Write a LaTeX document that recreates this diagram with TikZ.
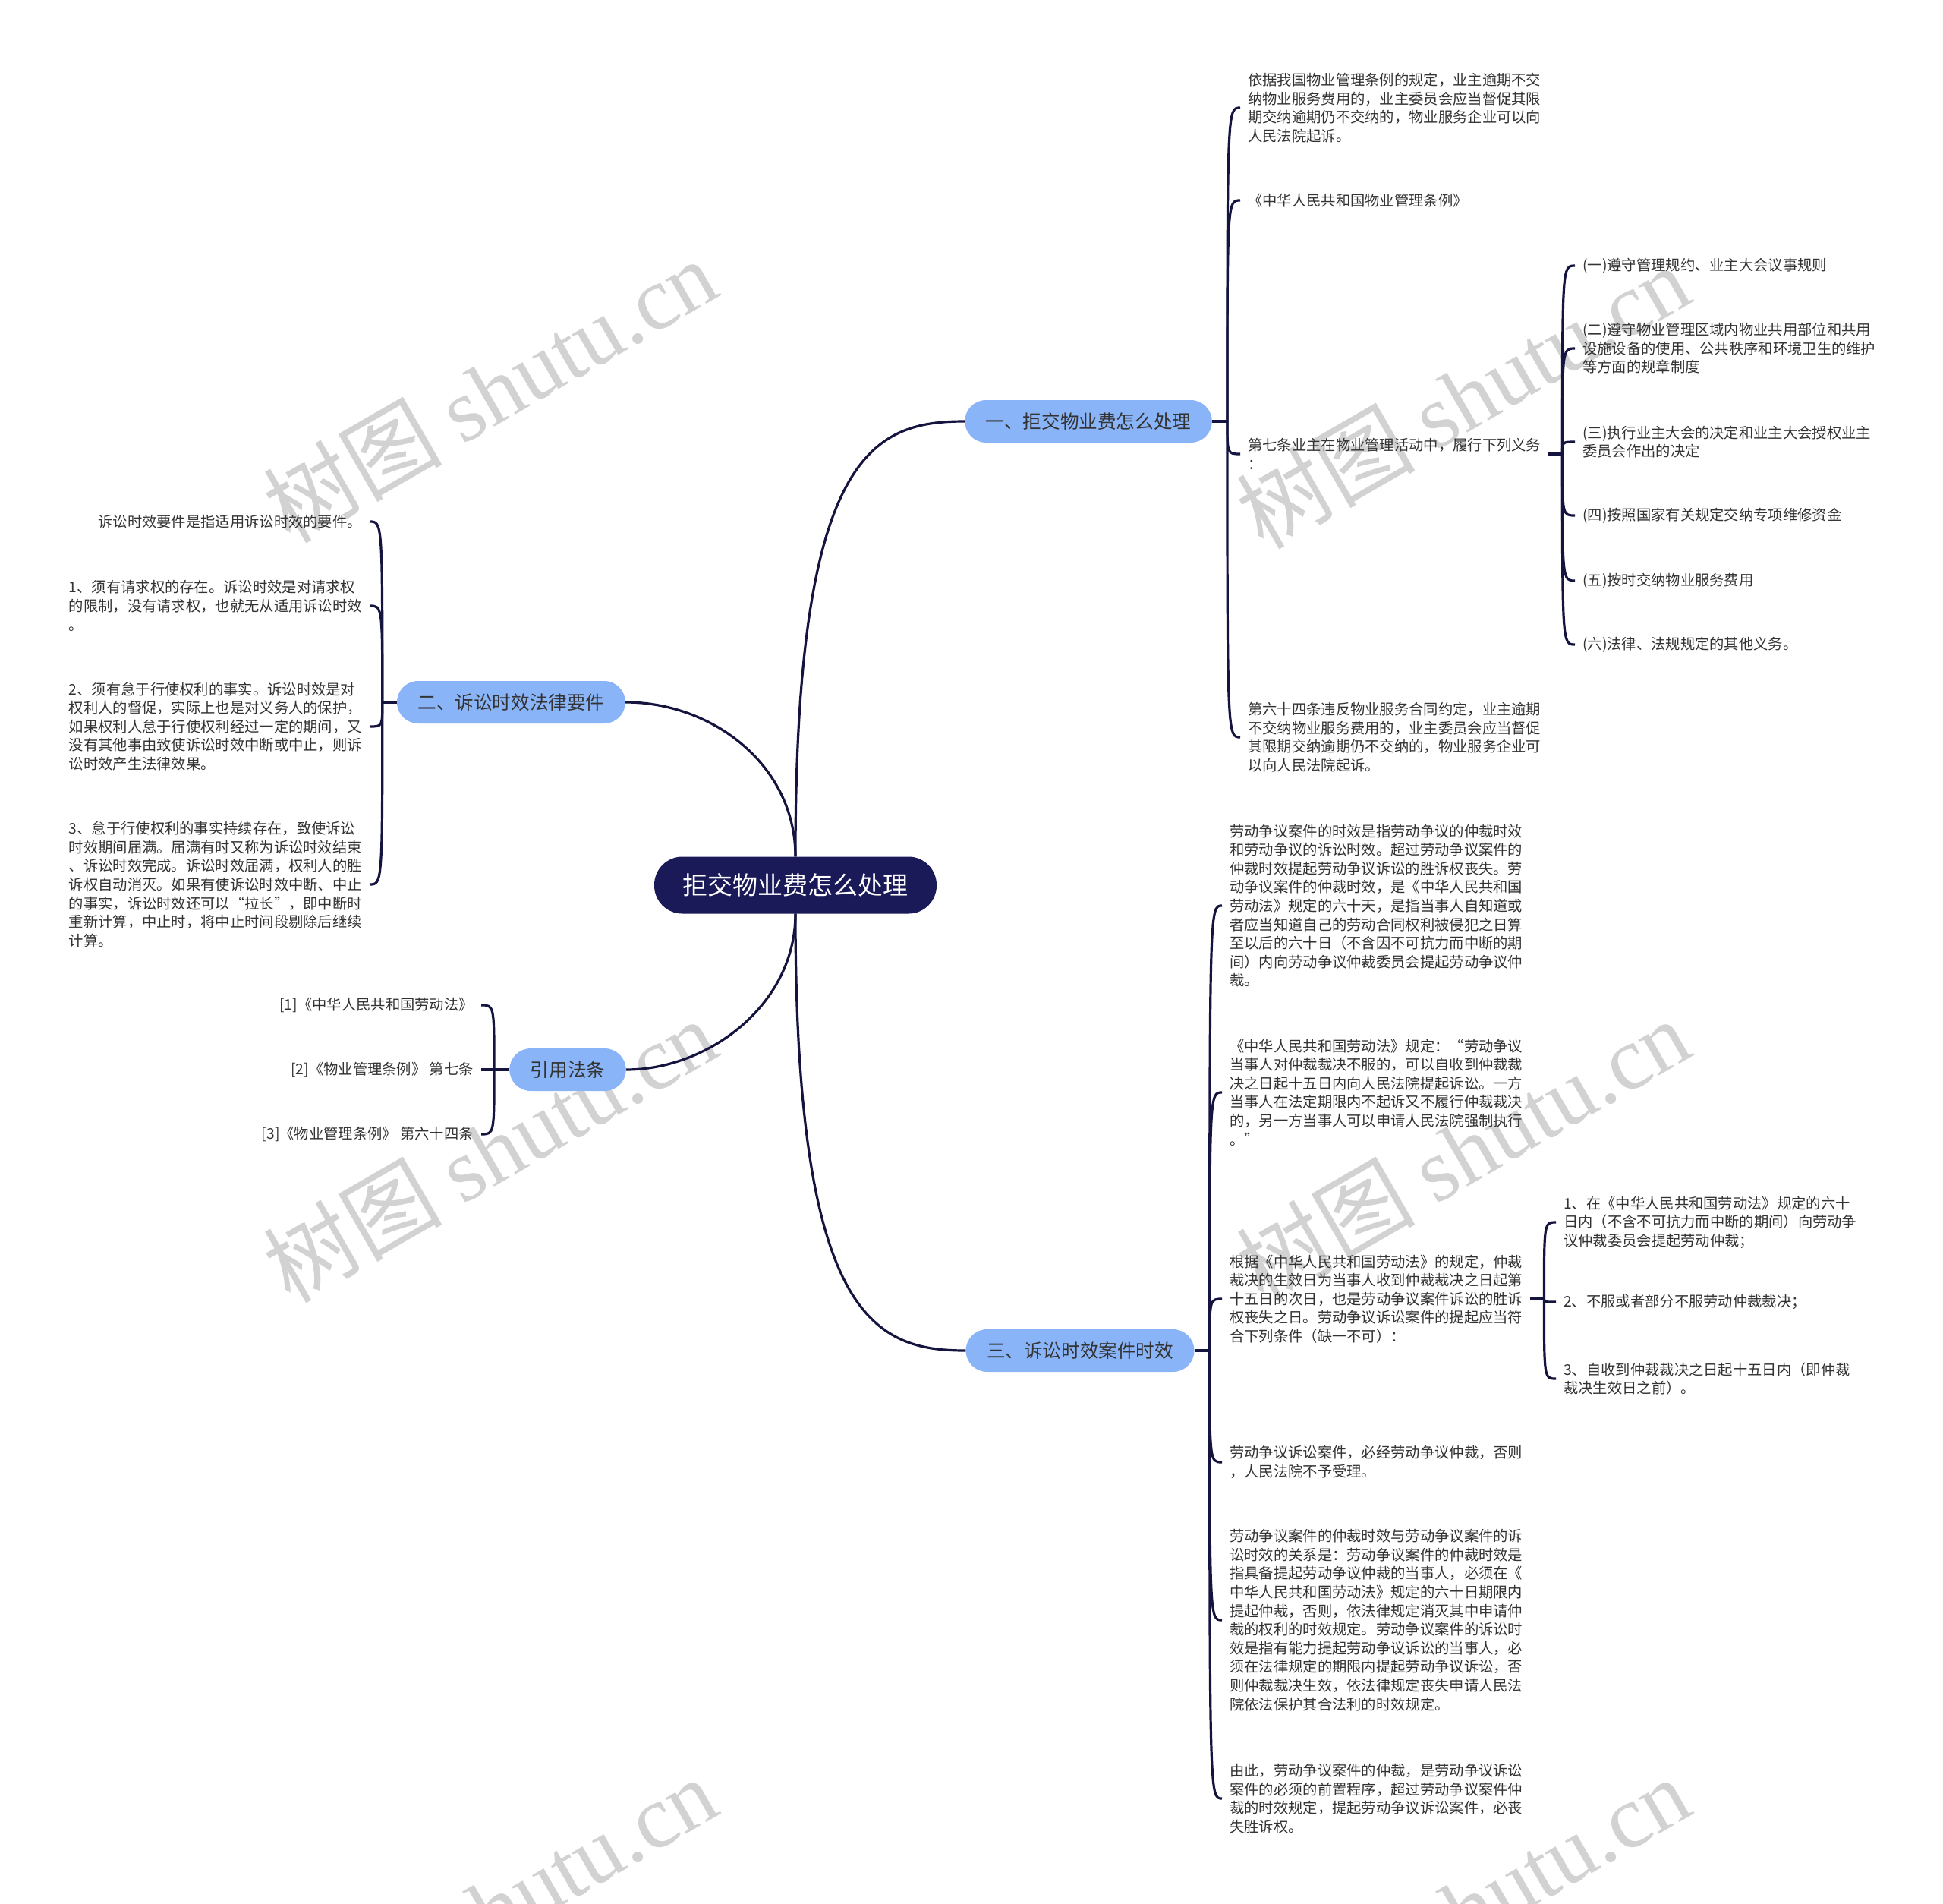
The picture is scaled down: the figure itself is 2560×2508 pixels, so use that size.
\documentclass[tikz,border=0pt]{standalone}
\usepackage{fontspec}
\setmainfont{Noto Sans CJK SC}
\newfontfamily\wmcjk{Noto Sans CJK SC}
\newfontfamily\wmlat{Liberation Serif}
\usetikzlibrary{calc}
\definecolor{navy}{HTML}{1B1A58}
\definecolor{branchblue}{HTML}{8AB4F8}
\definecolor{linecol}{HTML}{15143F}
\definecolor{txt}{HTML}{333333}
\definecolor{wm}{HTML}{D2D2D2}
\begin{document}
\begin{tikzpicture}[x=1pt,y=-1pt,
  conn/.style={draw=linecol, line width=3.2pt},
  rootnode/.style={fill=navy, text=white, rounded corners=37pt, minimum width=372pt, minimum height=75pt, inner sep=0pt, font=\fontsize{33}{40}\selectfont},
  branch/.style={fill=branchblue, text=txt, rounded corners=28pt, minimum height=56pt, inner xsep=27.5pt, inner ysep=0pt, font=\fontsize{24.6}{30}\selectfont},
  leaf/.style={text=txt, align=left, inner xsep=10pt, inner ysep=2pt, font=\fontsize{19.3}{24.6}\selectfont},
  wmark/.style={text=wm, rotate=30, inner sep=0pt, font=\fontsize{118}{130}\selectfont}
]
\useasboundingbox (0,0) rectangle (2560,2508);
\fill[white] (0,0) rectangle (2560,2508);
\clip (0,0) rectangle (2560,2508);

% watermarks
\node[wmark] (w1) at (645,514) {{\wmcjk 树图} {\wmlat shutu.cn}};
\node[wmark] (w2) at (1927,522) {{\wmcjk 树图} {\wmlat shutu.cn}};
\node[wmark] (w3) at (645,1515) {{\wmcjk 树图} {\wmlat shutu.cn}};
\node[wmark] (w4) at (1927,1515) {{\wmcjk 树图} {\wmlat shutu.cn}};
\node[wmark] (w5) at (645,2514) {{\wmcjk 树图} {\wmlat shutu.cn}};
\node[wmark] (w6) at (1927,2514) {{\wmcjk 树图} {\wmlat shutu.cn}};

% root and branches
\node[rootnode] (root) at (1048,1166) {拒交物业费怎么处理};
\node[branch] (b1) at (1434,555) {一、拒交物业费怎么处理};
\node[branch] (b2) at (673.5,925) {二、诉讼时效法律要件};
\node[branch] (b3) at (748,1409) {引用法条};
\node[branch] (b4) at (1423,1779) {三、诉讼时效案件时效};

% section 1 leaves
\node[leaf, anchor=west] (a1) at (1634,142) {依据我国物业管理条例的规定，业主逾期不交\\纳物业服务费用的，业主委员会应当督促其限\\期交纳逾期仍不交纳的，物业服务企业可以向\\人民法院起诉。};
\node[leaf, anchor=west] (a2) at (1634,264) {《中华人民共和国物业管理条例》};
\node[leaf, anchor=west] (a3) at (1634,598) {第七条业主在物业管理活动中，履行下列义务\\：};
\node[leaf, anchor=west] (a4) at (1634,971) {第六十四条违反物业服务合同约定，业主逾期\\不交纳物业服务费用的，业主委员会应当督促\\其限期交纳逾期仍不交纳的，物业服务企业可\\以向人民法院起诉。};

\node[leaf, anchor=west] (d1) at (2075,350) {(一)遵守管理规约、业主大会议事规则};
\node[leaf, anchor=west] (d2) at (2075,459) {(二)遵守物业管理区域内物业共用部位和共用\\设施设备的使用、公共秩序和环境卫生的维护\\等方面的规章制度};
\node[leaf, anchor=west] (d3) at (2075,582) {(三)执行业主大会的决定和业主大会授权业主\\委员会作出的决定};
\node[leaf, anchor=west] (d4) at (2075,679) {(四)按照国家有关规定交纳专项维修资金};
\node[leaf, anchor=west] (d5) at (2075,765) {(五)按时交纳物业服务费用};
\node[leaf, anchor=west] (d6) at (2075,849) {(六)法律、法规规定的其他义务。};

% section 2 leaves
\node[leaf, anchor=east] (l1) at (487,687) {诉讼时效要件是指适用诉讼时效的要件。};
\node[leaf, anchor=east] (l2) at (487,798) {1、须有请求权的存在。诉讼时效是对请求权\\的限制，没有请求权，也就无从适用诉讼时效\\。};
\node[leaf, anchor=east] (l3) at (487,957) {2、须有怠于行使权利的事实。诉讼时效是对\\权利人的督促，实际上也是对义务人的保护，\\如果权利人怠于行使权利经过一定的期间，又\\没有其他事由致使诉讼时效中断或中止，则诉\\讼时效产生法律效果。};
\node[leaf, anchor=east] (l4) at (487,1165) {3、怠于行使权利的事实持续存在，致使诉讼\\时效期间届满。届满有时又称为诉讼时效结束\\、诉讼时效完成。诉讼时效届满，权利人的胜\\诉权自动消灭。如果有使诉讼时效中断、中止\\的事实，诉讼时效还可以“拉长”，即中断时\\重新计算，中止时，将中止时间段剔除后继续\\计算。};

% cited laws
\node[leaf, anchor=east] (c1) at (634,1324) {[1]《中华人民共和国劳动法》};
\node[leaf, anchor=east] (c2) at (634,1409) {[2]《物业管理条例》 第七条};
\node[leaf, anchor=east] (c3) at (634,1494) {[3]《物业管理条例》 第六十四条};

% section 3 leaves
\node[leaf, anchor=west] (r1) at (1610,1193) {劳动争议案件的时效是指劳动争议的仲裁时效\\和劳动争议的诉讼时效。超过劳动争议案件的\\仲裁时效提起劳动争议诉讼的胜诉权丧失。劳\\动争议案件的仲裁时效，是《中华人民共和国\\劳动法》规定的六十天，是指当事人自知道或\\者应当知道自己的劳动合同权利被侵犯之日算\\至以后的六十日（不含因不可抗力而中断的期\\间）内向劳动争议仲裁委员会提起劳动争议仲\\裁。};
\node[leaf, anchor=west] (r2) at (1610,1439) {《中华人民共和国劳动法》规定：“劳动争议\\当事人对仲裁裁决不服的，可以自收到仲裁裁\\决之日起十五日内向人民法院提起诉讼。一方\\当事人在法定期限内不起诉又不履行仲裁裁决\\的，另一方当事人可以申请人民法院强制执行\\。”};
\node[leaf, anchor=west] (r3) at (1610,1711) {根据《中华人民共和国劳动法》的规定，仲裁\\裁决的生效日为当事人收到仲裁裁决之日起第\\十五日的次日，也是劳动争议案件诉讼的胜诉\\权丧失之日。劳动争议诉讼案件的提起应当符\\合下列条件（缺一不可）：};
\node[leaf, anchor=west] (r4) at (1610,1926) {劳动争议诉讼案件，必经劳动争议仲裁，否则\\，人民法院不予受理。};
\node[leaf, anchor=west] (r5) at (1610,2134) {劳动争议案件的仲裁时效与劳动争议案件的诉\\讼时效的关系是：劳动争议案件的仲裁时效是\\指具备提起劳动争议仲裁的当事人，必须在《\\中华人民共和国劳动法》规定的六十日期限内\\提起仲裁，否则，依法律规定消灭其中申请仲\\裁的权利的时效规定。劳动争议案件的诉讼时\\效是指有能力提起劳动争议诉讼的当事人，必\\须在法律规定的期限内提起劳动争议诉讼，否\\则仲裁裁决生效，依法律规定丧失申请人民法\\院依法保护其合法利的时效规定。};
\node[leaf, anchor=west] (r6) at (1610,2369) {由此，劳动争议案件的仲裁，是劳动争议诉讼\\案件的必须的前置程序，超过劳动争议案件仲\\裁的时效规定，提起劳动争议诉讼案件，必丧\\失胜诉权。};

\node[leaf, anchor=west] (e1) at (2050,1610) {1、在《中华人民共和国劳动法》规定的六十\\日内（不含不可抗力而中断的期间）向劳动争\\议仲裁委员会提起劳动仲裁；};
\node[leaf, anchor=west] (e2) at (2050,1715) {2、不服或者部分不服劳动仲裁裁决；};
\node[leaf, anchor=west] (e3) at (2050,1816) {3、自收到仲裁裁决之日起十五日内（即仲裁\\裁决生效日之前）。};

% root connectors
\draw[conn] (root.north) .. controls +(0,-530) and +(-122,0) .. (b1.west);
\draw[conn] (root.north) .. controls +(0,-120) and +(115,0) .. (b2.east);
\draw[conn] (root.south) .. controls +(0,120) and +(108,0) .. (b3.east);
\draw[conn] (root.south) .. controls +(0,530) and +(-122,0) .. (b4.west);

% brackets
\coordinate (k1) at ([xshift=20pt]b1.east);
\draw[conn] (b1.east) -- (k1);
\foreach \c in {a1,a2,a3,a4} \draw[conn] (k1) .. controls (k1 |- \c.west) .. (\c.west);

\coordinate (k3) at ([xshift=18pt]a3.east);
\draw[conn] (a3.east) -- (k3);
\foreach \c in {d1,d2,d3,d4,d5,d6} \draw[conn] (k3) .. controls (k3 |- \c.west) .. (\c.west);

\coordinate (k2) at ([xshift=-19pt]b2.west);
\draw[conn] (b2.west) -- (k2);
\foreach \c in {l1,l2,l3,l4} \draw[conn] (k2) .. controls (k2 |- \c.east) .. (\c.east);

\coordinate (kc) at ([xshift=-20pt]b3.west);
\draw[conn] (b3.west) -- (kc);
\foreach \c in {c1,c2,c3} \draw[conn] (kc) .. controls (kc |- \c.east) .. (\c.east);

\coordinate (k4) at ([xshift=20pt]b4.east);
\draw[conn] (b4.east) -- (k4);
\foreach \c in {r1,r2,r3,r4,r5,r6} \draw[conn] (k4) .. controls (k4 |- \c.west) .. (\c.west);

\coordinate (k5) at ([xshift=18pt]r3.east);
\draw[conn] (r3.east) -- (k5);
\foreach \c in {e1,e2,e3} \draw[conn] (k5) .. controls (k5 |- \c.west) .. (\c.west);
\end{tikzpicture}
\end{document}
